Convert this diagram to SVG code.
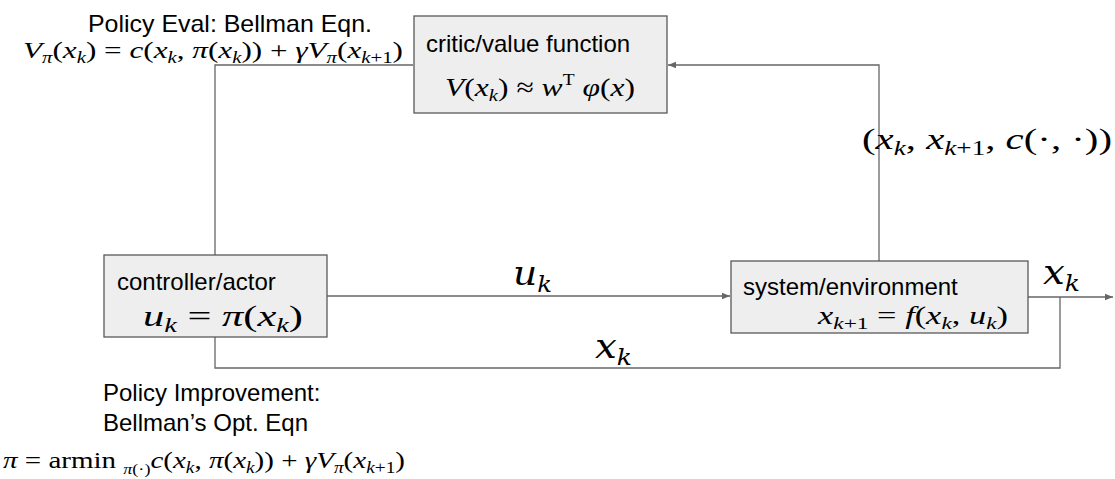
<svg xmlns="http://www.w3.org/2000/svg" width="1115" height="479" viewBox="0 0 1115 479">
<style>
.box{fill:#eeeeee;stroke:#595959;stroke-width:1.3}
.ln{fill:none;stroke:#666666;stroke-width:1.3}
.t{font-family:"Liberation Sans",Arial,sans-serif;font-size:24px;fill:#000}
.m{font-family:"Liberation Serif","Times New Roman",serif;fill:#000}
.d{font-family:"DejaVu Serif","Liberation Serif",serif;font-style:italic;fill:#000}
.i{font-style:italic}
</style>
<defs>
<marker id="ah" viewBox="0 0 10 10" refX="10" refY="5" markerWidth="8" markerHeight="8" markerUnits="userSpaceOnUse" orient="auto">
<path d="M0,1 L10,5 L0,9 Z" fill="#666666"/>
</marker>
</defs>
<rect width="1115" height="479" fill="#ffffff"/>
<g id="connectors">
<path class="ln" d="M413,65 H215 V255"/>
<path class="ln" d="M879,261 V65 H668" marker-end="url(#ah)"/>
<path class="ln" d="M327,296 H730" marker-end="url(#ah)"/>
<path class="ln" d="M1028,297 H1113" marker-end="url(#ah)"/>
<path class="ln" d="M1060,297 V368 H215 V337"/>
</g>
<g id="critic">
<rect class="box" x="414" y="16" width="253" height="97"/>
<text class="t" x="426" y="52">critic/value function</text>
<text class="m" x="445" y="96" font-size="26" textLength="190" lengthAdjust="spacingAndGlyphs"><tspan class="i">V</tspan>(<tspan class="i">x</tspan><tspan class="i" font-size="17" dy="5">k</tspan><tspan dy="-5">) ≈ </tspan><tspan class="i">w</tspan><tspan font-size="16" dy="-11">T</tspan><tspan dy="11"> </tspan><tspan class="i">φ</tspan>(<tspan class="i">x</tspan>)</text>
</g>
<g id="controller">
<rect class="box" x="104" y="255" width="223" height="82"/>
<text class="t" x="117" y="290">controller/actor</text>
<text class="m" x="143" y="326" font-size="30" textLength="160" lengthAdjust="spacingAndGlyphs"><tspan class="i">u</tspan><tspan class="i" font-size="20" dy="6">k</tspan><tspan dy="-6"> = </tspan><tspan class="i">π</tspan>(<tspan class="i">x</tspan><tspan class="i" font-size="20" dy="6">k</tspan><tspan dy="-6">)</tspan></text>
</g>
<g id="system">
<rect class="box" x="731" y="261" width="297" height="72"/>
<text class="t" x="743" y="295">system/environment</text>
<text class="m" x="818" y="324" font-size="25" textLength="190" lengthAdjust="spacingAndGlyphs"><tspan class="i">x</tspan><tspan font-size="17" dy="5"><tspan class="i">k</tspan>+1</tspan><tspan dy="-5"> = </tspan><tspan class="i">f</tspan>(<tspan class="i">x</tspan><tspan class="i" font-size="17" dy="5">k</tspan><tspan dy="-5">, </tspan><tspan class="i">u</tspan><tspan class="i" font-size="17" dy="5">k</tspan><tspan dy="-5">)</tspan></text>
</g>
<g id="labels">
<text class="t" x="88" y="32" textLength="284" lengthAdjust="spacingAndGlyphs">Policy Eval: Bellman Eqn.</text>
<text class="m" x="23" y="58" font-size="24" textLength="380" lengthAdjust="spacingAndGlyphs"><tspan class="i">V</tspan><tspan class="i" font-size="16" dy="5">π</tspan><tspan dy="-5">(</tspan><tspan class="i">x</tspan><tspan class="i" font-size="16" dy="5">k</tspan><tspan dy="-5">) = </tspan><tspan class="i">c</tspan>(<tspan class="i">x</tspan><tspan class="i" font-size="16" dy="5">k</tspan><tspan dy="-5">, </tspan><tspan class="i">π</tspan>(<tspan class="i">x</tspan><tspan class="i" font-size="16" dy="5">k</tspan><tspan dy="-5">)) + </tspan><tspan class="i">γV</tspan><tspan class="i" font-size="16" dy="5">π</tspan><tspan dy="-5">(</tspan><tspan class="i">x</tspan><tspan font-size="16" dy="5"><tspan class="i">k</tspan>+1</tspan><tspan dy="-5">)</tspan></text>
<text class="m" x="862" y="149" font-size="30" textLength="250" lengthAdjust="spacingAndGlyphs">(<tspan class="i">x</tspan><tspan class="i" font-size="20" dy="6">k</tspan><tspan dy="-6">, </tspan><tspan class="i">x</tspan><tspan font-size="20" dy="6"><tspan class="i">k</tspan>+1</tspan><tspan dy="-6">, </tspan><tspan class="i">c</tspan>(·, ·))</text>
<text class="d" x="513" y="285" font-size="34" textLength="39" lengthAdjust="spacingAndGlyphs">u<tspan font-size="22" dy="7">k</tspan></text>
<text class="d" x="1043" y="284" font-size="34" textLength="37" lengthAdjust="spacingAndGlyphs">x<tspan font-size="22" dy="7">k</tspan></text>
<text class="d" x="595" y="358" font-size="34" textLength="37" lengthAdjust="spacingAndGlyphs">x<tspan font-size="22" dy="7">k</tspan></text>
<text class="t" x="103" y="401">Policy Improvement:</text>
<text class="t" x="103" y="431">Bellman’s Opt. Eqn</text>
<text class="m" x="3" y="468" font-size="24" textLength="402" lengthAdjust="spacingAndGlyphs"><tspan class="i">π</tspan> = armin <tspan font-size="15" dy="6"><tspan class="i">π</tspan>(·)</tspan><tspan dy="-6" class="i">c</tspan>(<tspan class="i">x</tspan><tspan class="i" font-size="16" dy="5">k</tspan><tspan dy="-5">, </tspan><tspan class="i">π</tspan>(<tspan class="i">x</tspan><tspan class="i" font-size="16" dy="5">k</tspan><tspan dy="-5">)) + </tspan><tspan class="i">γV</tspan><tspan class="i" font-size="16" dy="5">π</tspan><tspan dy="-5">(</tspan><tspan class="i">x</tspan><tspan font-size="16" dy="5"><tspan class="i">k</tspan>+1</tspan><tspan dy="-5">)</tspan></text>
</g>
</svg>
